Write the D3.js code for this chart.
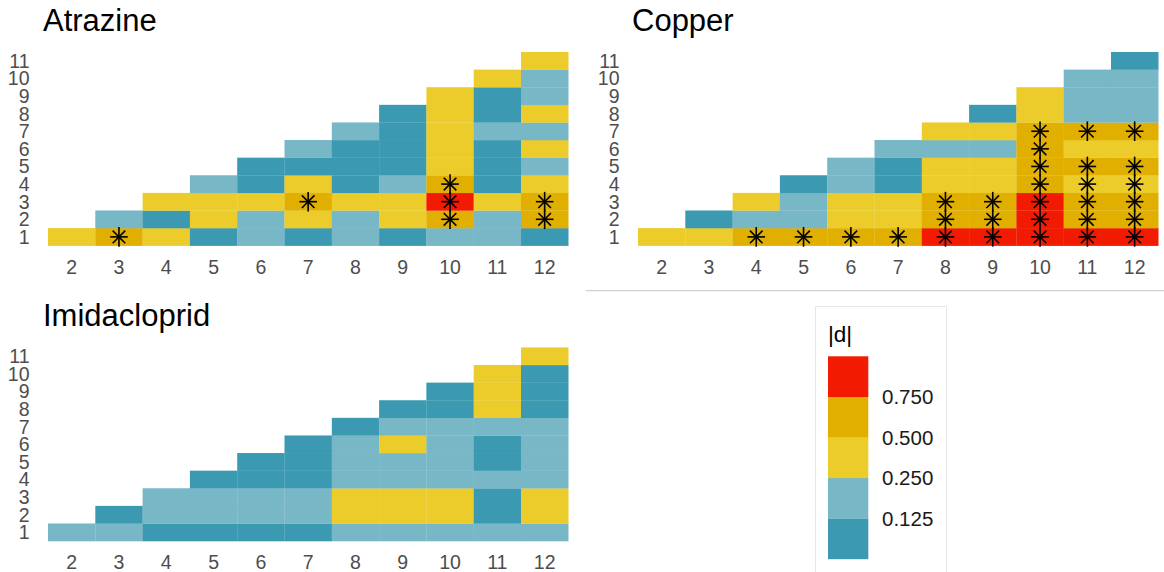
<!DOCTYPE html>
<html>
<head>
<meta charset="utf-8">
<script src="https://cdn.jsdelivr.net/npm/d3@7"></script>
<style>
  html, body { margin: 0; padding: 0; background: #fff; }
  svg { display: block; font-family: "Liberation Sans", Arial, sans-serif; }
</style>
</head>
<body>
<svg id="chart" width="1164" height="572"></svg>
<script>
// ---------- data ----------
const xCategories = [2, 3, 4, 5, 6, 7, 8, 9, 10, 11, 12];
const yCategories = [1, 2, 3, 4, 5, 6, 7, 8, 9, 10, 11];
const legendBreaks = [0.125, 0.25, 0.5, 0.75];
const legendLabels = ["0.125", "0.250", "0.500", "0.750"];
const palette = ["#3B9AB2", "#78B7C5", "#EBCC2A", "#E1AF00", "#F21A00"];
const legendTitle = "|d|";

// |d| estimates, one array per x column (rows 1 .. x-1)
const atrazineValues = [
  [0.36],
  [0.58, 0.17],
  [0.33, 0.09, 0.31],
  [0.07, 0.38, 0.34, 0.18],
  [0.20, 0.16, 0.29, 0.10, 0.06],
  [0.08, 0.42, 0.61, 0.35, 0.11, 0.21],
  [0.19, 0.15, 0.30, 0.09, 0.05, 0.10, 0.22],
  [0.04, 0.33, 0.40, 0.17, 0.08, 0.07, 0.11, 0.09],
  [0.23, 0.56, 0.81, 0.53, 0.45, 0.39, 0.32, 0.36, 0.28],
  [0.14, 0.20, 0.27, 0.06, 0.10, 0.12, 0.18, 0.08, 0.05, 0.31],
  [0.09, 0.66, 0.60, 0.44, 0.21, 0.37, 0.16, 0.30, 0.24, 0.19, 0.41]
];
const copperValues = [
  [0.34],
  [0.29, 0.07],
  [0.57, 0.16, 0.33],
  [0.62, 0.22, 0.18, 0.11],
  [0.55, 0.38, 0.42, 0.20, 0.15],
  [0.59, 0.31, 0.46, 0.09, 0.12, 0.23],
  [0.88, 0.64, 0.57, 0.35, 0.43, 0.17, 0.30],
  [0.91, 0.68, 0.54, 0.40, 0.47, 0.24, 0.33, 0.10],
  [1.02, 0.85, 0.79, 0.58, 0.70, 0.61, 0.55, 0.36, 0.27],
  [0.95, 0.71, 0.65, 0.48, 0.63, 0.44, 0.52, 0.21, 0.18, 0.14],
  [0.99, 0.73, 0.67, 0.46, 0.60, 0.39, 0.56, 0.19, 0.23, 0.16, 0.08]
];
const imidaclopridValues = [
  [0.18],
  [0.21, 0.06],
  [0.09, 0.17, 0.20],
  [0.05, 0.14, 0.22, 0.10],
  [0.07, 0.19, 0.16, 0.04, 0.11],
  [0.10, 0.23, 0.15, 0.08, 0.06, 0.12],
  [0.19, 0.34, 0.29, 0.16, 0.21, 0.14, 0.09],
  [0.24, 0.38, 0.31, 0.18, 0.20, 0.27, 0.17, 0.07],
  [0.15, 0.33, 0.41, 0.22, 0.13, 0.19, 0.24, 0.11, 0.05],
  [0.13, 0.08, 0.10, 0.18, 0.06, 0.09, 0.20, 0.30, 0.36, 0.28],
  [0.22, 0.35, 0.27, 0.16, 0.14, 0.21, 0.18, 0.12, 0.04, 0.08, 0.32]
];

// significant cells [x, y]
const atrazineSignif = [[3,1],[7,3],[10,2],[10,3],[10,4],[12,2],[12,3]];
const copperSignif = [
  [4,1],[5,1],[6,1],[7,1],
  [8,1],[8,2],[8,3],[9,1],[9,2],[9,3],
  [10,1],[10,2],[10,3],[10,4],[10,5],[10,6],[10,7],
  [11,1],[11,2],[11,3],[11,4],[11,5],[11,7],
  [12,1],[12,2],[12,3],[12,4],[12,5],[12,7]
];
const imidaclopridSignif = [];

// ---------- drawing ----------
const svg = d3.select("#chart");
const color = d3.scaleThreshold().domain(legendBreaks).range(palette);

function toCells(values) {
  const cells = [];
  values.forEach((col, i) => {
    col.forEach((v, j) => cells.push({ x: xCategories[i], y: yCategories[j], v }));
  });
  return cells;
}

function drawPanel(opt) {
  const g = svg.append("g");
  const x = d3.scaleBand().domain(xCategories).range([opt.left, opt.left + 520.3]).padding(0);
  const y = d3.scaleBand().domain(yCategories.slice().reverse()).range([opt.top, opt.top + 193.7]).padding(0);

  g.append("text")
    .attr("x", opt.titleX).attr("y", opt.titleY)
    .attr("font-size", 31).attr("fill", "#000")
    .text(opt.title);

  g.selectAll("rect.cell").data(toCells(opt.values)).join("rect")
    .attr("class", "cell")
    .attr("x", d => x(d.x)).attr("y", d => y(d.y))
    .attr("width", x.bandwidth() + 0.2).attr("height", y.bandwidth() + 0.2)
    .attr("fill", d => color(d.v));

  // axes
  const xAxis = d3.axisBottom(x).tickSize(0).tickPadding(0);
  const gx = g.append("g").attr("transform", `translate(0,${opt.top + 193.7 + 28.3})`).call(xAxis);
  gx.select(".domain").remove();
  gx.selectAll("text").attr("font-size", 19.5).attr("fill", "#4d4d4d")
    .attr("font-family", "Liberation Sans, Arial, sans-serif").attr("dy", 0);

  const yAxis = d3.axisLeft(y).tickSize(0).tickPadding(0);
  const gy = g.append("g").attr("transform", `translate(${opt.left - 18.5},0)`).call(yAxis);
  gy.select(".domain").remove();
  gy.selectAll("text").attr("font-size", 19.5).attr("fill", "#4d4d4d")
    .attr("font-family", "Liberation Sans, Arial, sans-serif").attr("dy", "0.36em");

  // asterisks
  const r = 9.8, rh = 8.8, rd = 6.3;
  const star = g.selectAll("g.star").data(opt.signif).join("g")
    .attr("class", "star")
    .attr("transform", d => `translate(${x(d[0]) + x.bandwidth() / 2},${y(d[1]) + y.bandwidth() / 2})`);
  const segs = [[0, -r, 0, r], [-rh, 0, rh, 0], [-rd, -rd, rd, rd], [-rd, rd, rd, -rd]];
  segs.forEach(s => {
    star.append("line")
      .attr("x1", s[0]).attr("y1", s[1]).attr("x2", s[2]).attr("y2", s[3])
      .attr("stroke", "#000").attr("stroke-width", 1.6);
  });
}

drawPanel({ title: "Atrazine", titleX: 43, titleY: 31, left: 48, top: 52, values: atrazineValues, signif: atrazineSignif });
drawPanel({ title: "Copper", titleX: 632, titleY: 31, left: 638, top: 52, values: copperValues, signif: copperSignif });
drawPanel({ title: "Imidacloprid", titleX: 43, titleY: 326, left: 48, top: 347.4, values: imidaclopridValues, signif: imidaclopridSignif });

// separator line
svg.append("line").attr("x1", 586).attr("x2", 1164).attr("y1", 290.7).attr("y2", 290.7)
  .attr("stroke", "#c4c4c4").attr("stroke-width", 1);

// legend
const lg = svg.append("g");
lg.append("rect").attr("x", 815.5).attr("y", 306.5).attr("width", 131).attr("height", 280)
  .attr("fill", "#fff").attr("stroke", "#e6e6e6").attr("stroke-width", 1);
lg.append("text").attr("x", 828).attr("y", 342).attr("font-size", 22.5).attr("fill", "#000").text(legendTitle);

const ly = d3.scaleLinear().domain([0, palette.length]).range([559, 356.3]);
lg.selectAll("rect.key").data(palette).join("rect")
  .attr("class", "key")
  .attr("x", 828).attr("width", 40.3)
  .attr("y", (d, i) => ly(i + 1)).attr("height", (d, i) => ly(i) - ly(i + 1) + 0.2)
  .attr("fill", d => d);
lg.selectAll("text.lab").data(legendLabels).join("text")
  .attr("class", "lab")
  .attr("x", 882).attr("y", (d, i) => ly(i + 1)).attr("dy", "0.36em")
  .attr("font-size", 20.5).attr("fill", "#1a1a1a")
  .text(d => d);
</script>
</body>
</html>
